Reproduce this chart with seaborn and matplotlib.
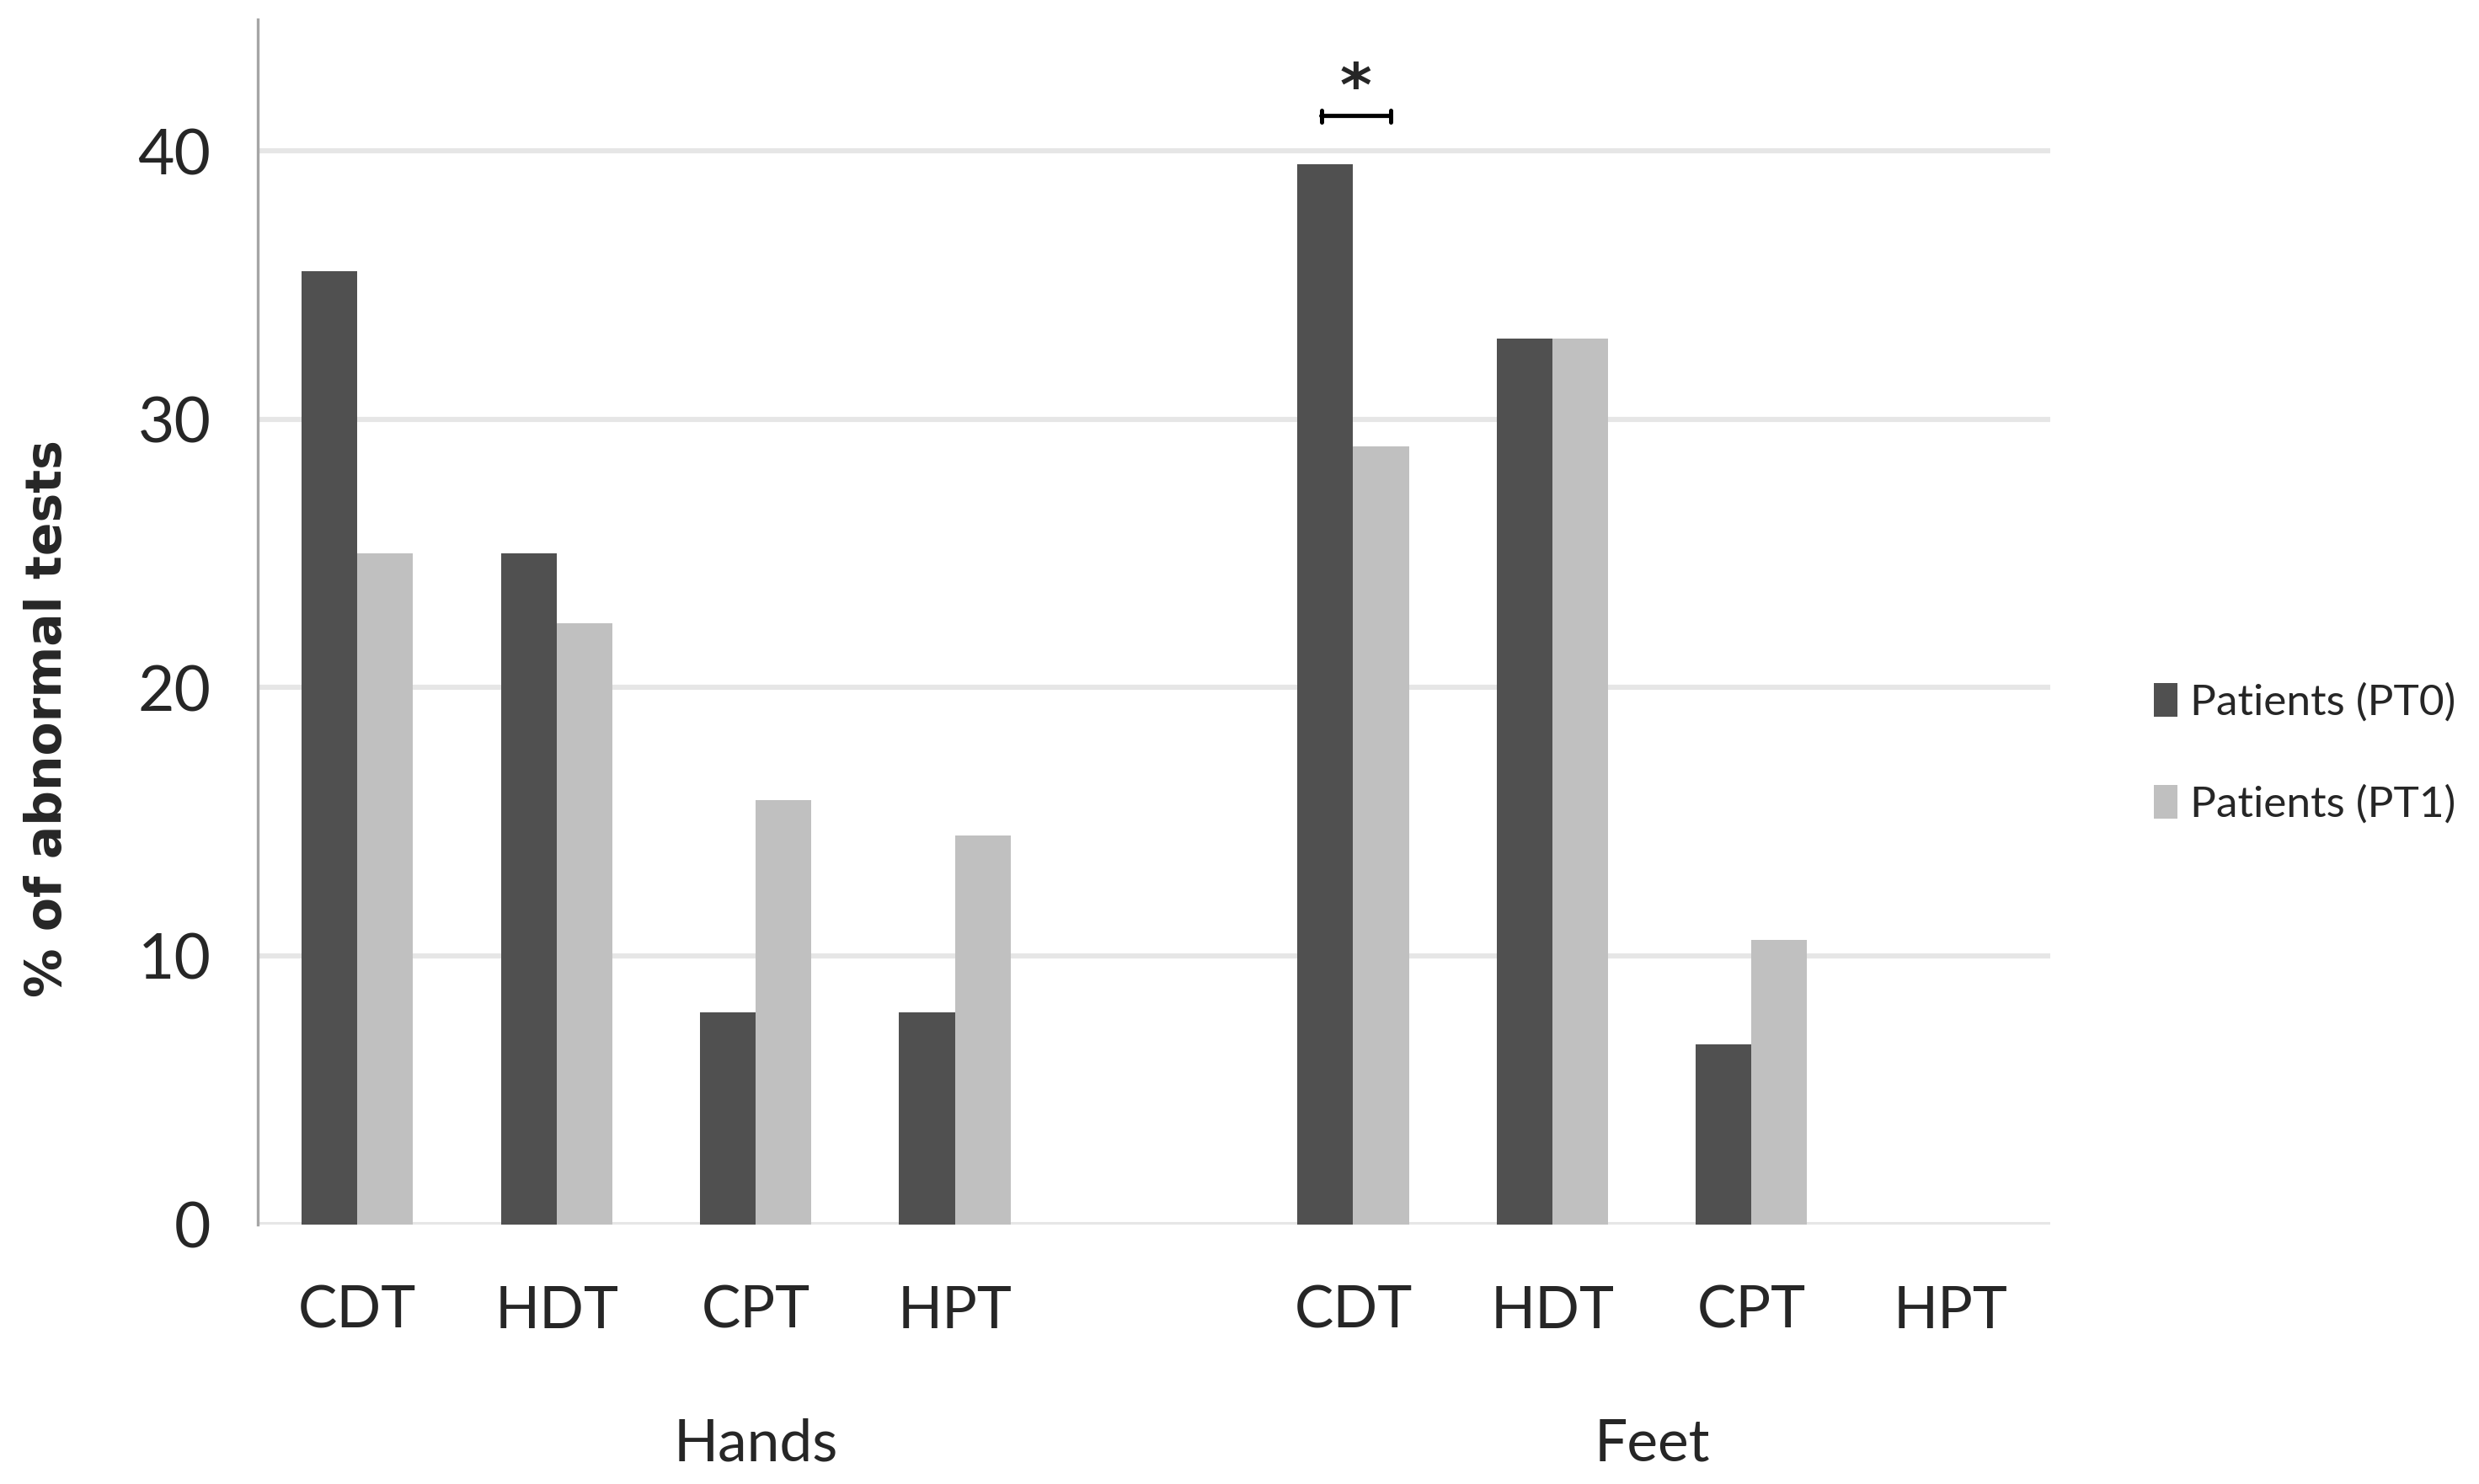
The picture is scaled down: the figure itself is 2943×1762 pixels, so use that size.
import pandas as pd
import matplotlib
matplotlib.use("Agg")
import matplotlib.pyplot as plt
import seaborn as sns
from matplotlib.patches import Patch

# ========= Data =========
sites = ["Hands", "Feet"]
tests = ["CDT", "HDT", "CPT", "HPT"]
series = ["Patients (PT0)", "Patients (PT1)"]

hands_pt0 = [35.5, 25.0, 7.9, 7.9]
hands_pt1 = [25.0, 22.4, 15.8, 14.5]
feet_pt0 = [39.5, 33.0, 6.7, 0.0]
feet_pt1 = [29.0, 33.0, 10.6, 0.0]

colors = ["#505050", "#c0c0c0"]

# ========= Prepare data =========
rows = []
for site, v0, v1 in [("Hands", hands_pt0, hands_pt1), ("Feet", feet_pt0, feet_pt1)]:
    for t, a, b in zip(tests, v0, v1):
        rows.append({"slot": site + " " + t, "series": series[0], "value": a})
        rows.append({"slot": site + " " + t, "series": series[1], "value": b})
df = pd.DataFrame(rows)

# one empty slot between the two groups
order = ["Hands " + t for t in tests] + ["gap"] + ["Feet " + t for t in tests]

# ========= Plot =========
sns.set_style("white")
plt.rcParams["font.family"] = ["Lato", "DejaVu Sans"]

fig = plt.figure(figsize=(14.715, 8.81), dpi=200)
ax = fig.add_axes([0.104, 0.175, 0.723, 0.812])

sns.barplot(data=df, x="slot", y="value", hue="series", order=order,
            hue_order=series, palette=colors, width=0.56, gap=0,
            saturation=1, linewidth=0, ax=ax, zorder=3, legend=False)

ax.set_ylim(0, 44.9)
ax.set_xlim(-0.5, len(order) - 0.5)
ax.set_yticks([0, 10, 20, 30, 40])
ax.yaxis.grid(True, color="#e6e6e6", linewidth=2.2, zorder=0)
ax.xaxis.grid(False)

for side in ["top", "right", "bottom"]:
    ax.spines[side].set_visible(False)
ax.spines["left"].set_color("#a6a6a6")
ax.spines["left"].set_linewidth(1.2)

ax.set_xticks([i for i, s in enumerate(order) if s != "gap"])
ax.set_xticklabels([s.split(" ")[1] for s in order if s != "gap"])
ax.tick_params(axis="x", length=0, pad=26, labelsize=25)
ax.tick_params(axis="y", length=0, pad=20, labelsize=27)
ax.set_xlabel("")
ax.set_ylabel("% of abnormal tests", fontsize=21, fontweight="bold",
              family="DejaVu Sans")
ax.yaxis.set_label_coords(-0.104, 0.42)

# group labels below the test names
ax.text(2.0, -0.183, "Hands", transform=ax.get_xaxis_transform(),
        ha="center", va="center", fontsize=25)
ax.text(6.5, -0.183, "Feet", transform=ax.get_xaxis_transform(),
        ha="center", va="center", fontsize=25)

# significance bracket on Feet CDT
ax.annotate("", xy=(4.84, 41.3), xytext=(5.19, 41.3),
            arrowprops=dict(arrowstyle="|-|,widthA=0.25,widthB=0.25",
                            color="black", lw=1.8, shrinkA=0, shrinkB=0))
ax.text(5.015, 41.2, "*", ha="center", va="bottom", fontsize=26,
        fontweight="bold", family="DejaVu Sans")

handles = [Patch(facecolor=c, edgecolor="none") for c in colors]
fig.legend(handles, series, loc="center left", bbox_to_anchor=(0.853, 0.492),
           frameon=False, fontsize=18.5, handlelength=0.55, handleheight=0.8,
           handletextpad=0.3, labelspacing=1.45)

plt.savefig("out.png", dpi=200)
